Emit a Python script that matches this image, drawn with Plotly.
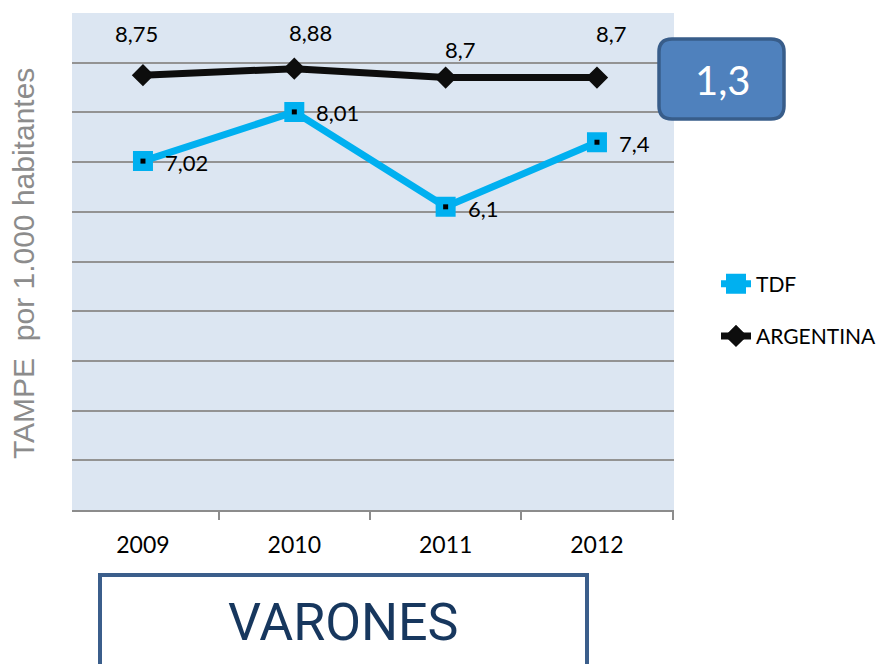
import plotly.graph_objects as go

years = ["2009", "2010", "2011", "2012"]
tdf = [7.02, 8.01, 6.1, 7.4]
argentina = [8.75, 8.88, 8.7, 8.7]
tdf_labels = ["7,02", "8,01", "6,1", "7,4"]
arg_labels = ["8,75", "8,88", "8,7", "8,7"]
diff_label = "1,3"
title_text = "VARONES"
y_title = "TAMPE  por 1.000 habitantes"

W, H = 888, 664
L, R, T, B = 72, 674, 13, 510


def px(x):
    return (x - L) / (R - L)


def py(y):
    return (B - y) / (B - T)


def rounded_rect(x0, y0, x1, y1, r):
    X0, X1 = px(x0), px(x1)
    Y0, Y1 = py(y0), py(y1)
    rx = r / (R - L)
    ry = r / (B - T)
    return (f"M {X0+rx},{Y0} L {X1-rx},{Y0} Q {X1},{Y0} {X1},{Y0-ry} "
            f"L {X1},{Y1+ry} Q {X1},{Y1} {X1-rx},{Y1} "
            f"L {X0+rx},{Y1} Q {X0},{Y1} {X0},{Y1+ry} "
            f"L {X0},{Y0-ry} Q {X0},{Y0} {X0+rx},{Y0} Z")


fig = go.Figure()

fig.add_trace(go.Scatter(
    x=years, y=tdf, name="TDF", mode="lines+markers",
    line=dict(color="#00b0f0", width=7),
    marker=dict(symbol="square", size=16, color="#00b0f0",
                line=dict(color="#00b0f0", width=4)),
    legendgroup="a",
))
fig.add_trace(go.Scatter(
    x=years, y=tdf, mode="markers", showlegend=False, hoverinfo="skip",
    marker=dict(symbol="square", size=5, color="black"),
))
fig.add_trace(go.Scatter(
    x=years, y=argentina, name="ARGENTINA", mode="lines+markers",
    line=dict(color="#0d0d0d", width=7),
    marker=dict(symbol="diamond", size=15, color="#0d0d0d",
                line=dict(color="#0d0d0d", width=2)),
    legendgroup="b",
))

annotations = []
for i, (v, t) in enumerate(zip(tdf, tdf_labels)):
    annotations.append(dict(x=i, y=v, xref="x", yref="y", text=t,
                            showarrow=False, xanchor="left", yanchor="middle",
                            xshift=20, yshift=-2 if t == "6,1" else -1,
                            font=dict(family="Lato", size=22, color="#000000")))
arg_shift = [(-6, 42), (16, 36), (15, 28), (15, 44)]
for i, ((v, t), (dx, dy)) in enumerate(zip(zip(argentina, arg_labels), arg_shift)):
    annotations.append(dict(x=i, y=v, xref="x", yref="y", text=t,
                            showarrow=False, xanchor="center", yanchor="middle",
                            xshift=dx, yshift=dy,
                            font=dict(family="Lato", size=22, color="#000000")))

annotations.append(dict(x=px(722), y=py(80), xref="paper", yref="paper",
                        text=diff_label, showarrow=False,
                        xanchor="center", yanchor="middle",
                        font=dict(family="Lato", size=40, color="white")))
annotations.append(dict(x=px(343), y=py(622), xref="paper", yref="paper",
                        text=title_text, showarrow=False,
                        xanchor="center", yanchor="middle",
                        font=dict(family="Roboto", size=52, color="#17375e")))
annotations.append(dict(x=px(23), y=py(264), xref="paper", yref="paper",
                        text=y_title, showarrow=False, textangle=-90,
                        xanchor="center", yanchor="middle",
                        font=dict(family="Liberation Sans, Arial", size=30,
                                  color="#8c8c8c")))

shapes = [
    dict(type="path", xref="paper", yref="paper",
         path=rounded_rect(659, 39, 784, 119, 13),
         fillcolor="#4f81bd", line=dict(color="#385d8a", width=3.5)),
    dict(type="rect", xref="paper", yref="paper",
         x0=px(100), x1=px(587), y0=py(575), y1=py(680),
         fillcolor="white", line=dict(color="#3b5e8b", width=4)),
]

fig.update_layout(
    width=W, height=H,
    margin=dict(l=L, r=W - R, t=T, b=H - B, pad=0, autoexpand=False),
    paper_bgcolor="white",
    plot_bgcolor="#dce6f2",
    showlegend=True,
    legend=dict(x=px(716), y=py(310), xanchor="left", yanchor="middle",
                font=dict(family="Lato", size=21, color="#000000"),
                tracegroupgap=22, bgcolor="rgba(0,0,0,0)"),
    annotations=annotations,
    shapes=shapes,
    xaxis=dict(type="category", range=[-0.469, 3.509], showgrid=False,
               showline=True, linecolor="#8c8c8c", linewidth=1.5,
               ticks="outside", tickson="boundaries", ticklen=8,
               tickcolor="#8c8c8c", tickwidth=1.5, ticklabelstandoff=14,
               tickfont=dict(family="Lato", size=23, color="#000000"),
               zeroline=False),
    yaxis=dict(range=[0, 10], dtick=1, showticklabels=False, showgrid=True,
               gridcolor="#939393", gridwidth=1.5, zeroline=False,
               showline=False, ticks=""),
)

fig.write_html("out.html", config={"displayModeBar": False},
               post_script="document.body.style.margin='0px';document.body.style.overflow='hidden';")
